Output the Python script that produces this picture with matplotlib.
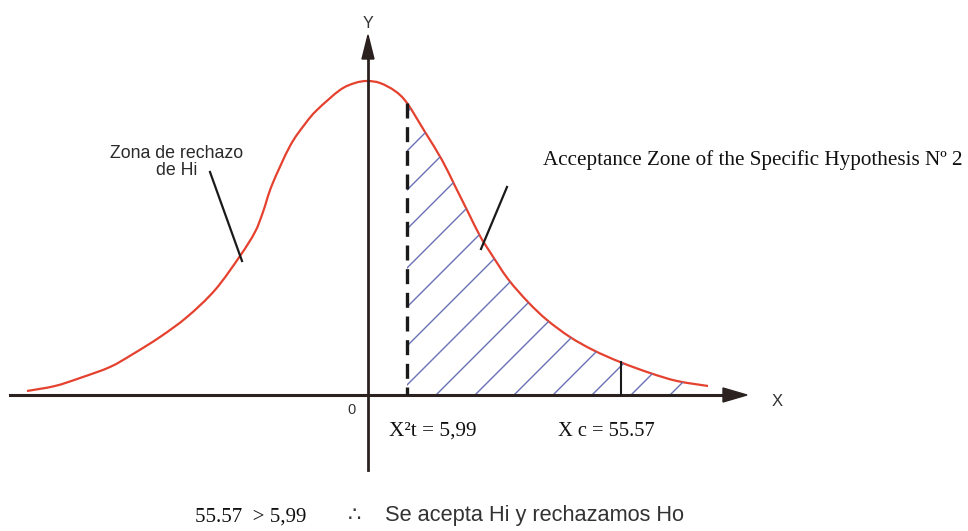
import numpy as np
import matplotlib
matplotlib.use("Agg")
import matplotlib.pyplot as plt
from matplotlib.patches import FancyArrow, PathPatch
from matplotlib.path import Path

# ---- data (figure-pixel units) ----
curve_x = [27, 55, 80, 110, 133, 160, 187, 215, 240, 255, 263, 272, 290, 305, 317,
           340, 355, 367, 380, 395, 407, 425, 442, 455, 468, 480, 490, 508, 528,
           547, 570, 593, 620, 650, 677, 708]
curve_y = [391, 386, 378, 367, 354, 337, 317, 290, 256, 232, 212, 185, 146, 124, 110,
           90, 83, 81, 83, 91, 103, 132, 160, 186, 212, 236, 252, 279, 302,
           320, 337, 350, 362, 373, 381, 386]
x_table = 407      # X²t position
x_calc = 621       # Xc position
label_table = "X²t = 5,99"
label_calc = "X c = 55.57"
label_reject = "Zona de rechazo\nde Hi"
label_accept = "Acceptance Zone of the Specific Hypothesis Nº 2"
conclusion_left = "55.57  > 5,99"
conclusion_right = "Se acepta Hi y rechazamos Ho"

fig = plt.figure(figsize=(9.68, 5.31), dpi=100)
ax = fig.add_axes([0, 0, 1, 1])
ax.set_xlim(0, 968)
ax.set_ylim(531, 0)
ax.axis("off")

base_y = 395
axis_x = 368
axis_col = "#2b2220"

P = np.column_stack([curve_x, curve_y]).astype(float)
n = len(P)


def bezier_segments(pts, i0, i1):
    """Catmull-Rom through pts[i0..i1], as cubic Bezier vertices (without first point)."""
    verts = []
    for i in range(i0, i1):
        p0 = pts[max(i - 1, 0)]
        p1 = pts[i]
        p2 = pts[i + 1]
        p3 = pts[min(i + 2, len(pts) - 1)]
        c1 = p1 + (p2 - p0) / 6.0
        c2 = p2 - (p3 - p1) / 6.0
        verts += [c1, c2, p2]
    return verts


# hatched region under the curve to the right of the table value
it = curve_x.index(x_table)
seg = bezier_segments(P, it, n - 1)
rverts = [(x_table, base_y), tuple(P[it])] + [tuple(v) for v in seg] + \
         [(P[-1][0], base_y), (x_table, base_y)]
rcodes = [Path.MOVETO, Path.LINETO] + [Path.CURVE4] * len(seg) + [Path.LINETO, Path.CLOSEPOLY]
region = PathPatch(Path(rverts, rcodes), facecolor="none", edgecolor="none")
ax.add_patch(region)
for x0 in np.arange(x_table - 400, 760, 39):
    ln, = ax.plot([x0, x0 + 420], [base_y, base_y - 420], color="#6a72b4", lw=1.0)
    ln.set_clip_path(region)

# curve (smooth path through the read points)
seg_all = bezier_segments(P, 0, n - 1)
cverts = [tuple(P[0])] + [tuple(v) for v in seg_all]
ccodes = [Path.MOVETO] + [Path.CURVE4] * len(seg_all)
ax.add_patch(PathPatch(Path(cverts, ccodes), facecolor="none",
                       edgecolor="#e5412f", lw=1.6))

# axes
ax.plot([10, 728], [base_y, base_y], color=axis_col, lw=2.2)
ax.add_patch(FancyArrow(722, base_y, 1, 0, width=0, head_width=14, head_length=24,
                        length_includes_head=False, color=axis_col))
ax.plot([axis_x, axis_x], [470, 55], color=axis_col, lw=2.0)
ax.add_patch(FancyArrow(axis_x, 60, 0, -1, width=0, head_width=12, head_length=24,
                        length_includes_head=False, color=axis_col))

# critical lines
yt = curve_y[it]
ax.plot([x_table, x_table], [yt, base_y], color="#1a1a1a", lw=2.4,
        dashes=(4.5, 2.6))
yc = np.interp(x_calc, curve_x, curve_y)
ax.plot([x_calc, x_calc], [yc, base_y], color="#1a1a1a", lw=1.5)

# leader lines
ax.plot([210, 242], [172, 261], color="#1a1a1a", lw=1.6)
ax.plot([507, 481], [187, 249], color="#1a1a1a", lw=1.6)

sans = ["Liberation Sans", "DejaVu Sans"]
serif = ["Liberation Serif", "DejaVu Serif"]

ax.text(177, 162, label_reject, ha="center", va="center", fontsize=12.8,
        family=sans, color="#2a2a2a", linespacing=1.0)
ax.text(543, 160, label_accept, ha="left", va="center", fontsize=15.2,
        family=serif, color="#111111")
ax.text(368, 23, "Y", ha="center", va="center", fontsize=11.5, family=sans, color="#333333")
ax.text(777, 402, "X", ha="center", va="center", fontsize=12, family=sans, color="#333333")
ax.text(351, 410, "0", ha="center", va="center", fontsize=10.5, family=sans, color="#333333")
ax.text(389, 431, label_table, ha="left", va="center", fontsize=15.3,
        family=serif, color="#111111")
ax.text(558, 431, label_calc, ha="left", va="center", fontsize=14.8,
        family=serif, color="#111111")
ax.text(195, 517, conclusion_left, ha="left", va="center", fontsize=15,
        family=serif, color="#111111")
ax.text(354, 515, "∴", ha="center", va="center", fontsize=15,
        family=["DejaVu Sans"], color="#333333")
ax.text(385, 515, conclusion_right, ha="left", va="center", fontsize=15.7,
        family=sans, color="#333333")

fig.savefig("out.png", dpi=100)
